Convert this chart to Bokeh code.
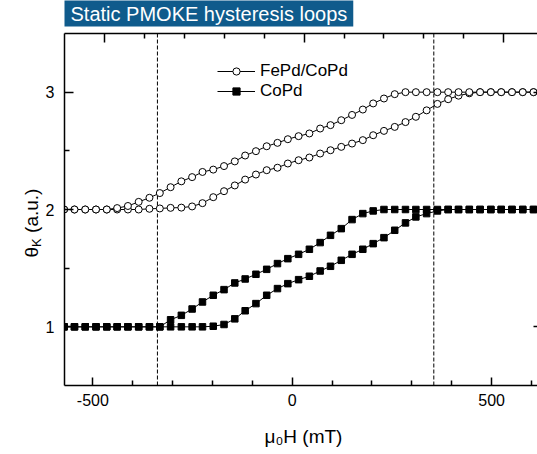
from bokeh.plotting import figure
from bokeh.models import Range1d, FixedTicker, LinearAxis, Span, Label, Legend, LegendItem
from bokeh.embed import file_html
from bokeh.resources import INLINE

# ---- data ----
field_mT = [-572, -546, -519, -492, -465, -439, -412, -385, -358, -332,
            -305, -278, -251, -225, -198, -171, -144, -118, -91, -64,
            -37, -11, 16, 43, 70, 96, 123, 150, 177, 203,
            230, 257, 284, 310, 337, 364, 391, 417, 444, 471,
            498, 524, 551, 578, 605]

fepd_up = [2.0, 2.0, 2.0, 2.0, 2.0, 2.0, 2.0, 2.0, 2.006, 2.009,
           2.014, 2.016, 2.026, 2.054, 2.105, 2.156, 2.205, 2.255, 2.298, 2.335,
           2.356, 2.392, 2.42, 2.443, 2.477, 2.505, 2.534, 2.562, 2.591, 2.633,
           2.67, 2.704, 2.745, 2.79, 2.845, 2.9, 2.94, 2.97, 2.99, 3.0,
           3.0, 3.0, 3.0, 3.0, 3.0]
fepd_down = [2.0, 2.0, 2.0, 2.0, 2.0, 2.012, 2.03, 2.065, 2.10, 2.14,
             2.19, 2.24, 2.276, 2.32, 2.34, 2.37, 2.41, 2.46, 2.497, 2.539,
             2.568, 2.599, 2.625, 2.648, 2.69, 2.719, 2.761, 2.806, 2.852, 2.904,
             2.946, 2.983, 3.0, 3.0, 3.0, 3.0, 3.0, 3.0, 3.0, 3.0,
             3.0, 3.0, 3.0, 3.0, 3.0]
copd_up = [1.0, 1.0, 1.0, 1.0, 1.0, 1.0, 1.0, 1.0, 1.0, 1.0,
           1.0, 1.0, 1.0, 1.0, 1.005, 1.02, 1.068, 1.137, 1.198, 1.269,
           1.326, 1.368, 1.402, 1.431, 1.476, 1.516, 1.567, 1.618, 1.661, 1.709,
           1.76, 1.823, 1.886, 1.937, 1.965, 1.988, 2.0, 2.0, 2.0, 2.0,
           2.0, 2.0, 2.0, 2.0, 2.0]
copd_down = [1.0, 1.0, 1.0, 1.0, 1.0, 1.0, 1.0, 1.0, 1.0, 1.0,
             1.06, 1.098, 1.152, 1.212, 1.269, 1.317, 1.374, 1.408, 1.448, 1.49,
             1.539, 1.581, 1.618, 1.661, 1.718, 1.78, 1.837, 1.914, 1.965, 1.988,
             2.0, 2.0, 2.0, 2.0, 2.0, 2.0, 2.0, 2.0, 2.0, 2.0,
             2.0, 2.0, 2.0, 2.0, 2.0]

guide_fields = [-338, 355]

x_major = [-500, 0, 500]
x_minor = [-400, -300, -200, -100, 100, 200, 300, 400, 600]
top_major = [-470, 30, 530]
top_minor = [-370, -270, -170, -70, 130, 230, 330, 430]
y_major = [1, 2, 3]
y_minor = [1.5, 2.5]

series_names = ["FePd/CoPd", "CoPd"]
title_text = "Static PMOKE hysteresis loops"
x_title = "μ₀H (mT)"
y_title_main = "θ"
y_title_sub = "K"
y_title_unit = "(a.u.)"

FONT = "Liberation Sans"
TITLE_BG = "#0f5b8c"

p = figure(width=537, height=454, output_backend="svg", toolbar_location=None,
           x_range=Range1d(-571, 615), y_range=Range1d(0.5, 3.5),
           x_axis_location=None, y_axis_location=None,
           min_border_left=64, min_border_right=0, min_border_top=33, min_border_bottom=69)
p.outline_line_color = None
p.grid.visible = False


def style_axis(ax, tick_in, minor_in, font_size="16px"):
    ax.axis_line_color = "black"
    ax.axis_line_width = 1.5
    ax.major_tick_in = tick_in
    ax.major_tick_out = 0
    ax.minor_tick_in = minor_in
    ax.minor_tick_out = 0
    ax.major_tick_line_color = "black"
    ax.minor_tick_line_color = "black"
    ax.major_tick_line_width = 1.5
    ax.minor_tick_line_width = 1.5
    ax.major_label_text_font = FONT
    ax.major_label_text_color = "black"
    ax.major_label_text_font_size = font_size


bottom = LinearAxis(ticker=FixedTicker(ticks=x_major, minor_ticks=x_minor),
                    major_label_overrides={-500: "-500", 0: "0", 500: "500"})
style_axis(bottom, 8, 5)
bottom.major_label_standoff = 8
p.add_layout(bottom, "below")

left = LinearAxis(ticker=FixedTicker(ticks=y_major, minor_ticks=y_minor))
style_axis(left, 9, 5)
left.major_label_standoff = 10
p.add_layout(left, "left")

top = LinearAxis(ticker=FixedTicker(ticks=top_major, minor_ticks=top_minor),
                 major_label_overrides={t: "" for t in top_major})
style_axis(top, 9, 5, font_size="1px")
top.major_label_standoff = 0
p.add_layout(top, "above")

right = LinearAxis(ticker=FixedTicker(ticks=y_major, minor_ticks=[]),
                   major_label_overrides={t: "" for t in y_major})
style_axis(right, 4, 0, font_size="1px")
right.major_label_standoff = 0
right.axis_line_color = None
p.add_layout(right, "right")

for g in guide_fields:
    p.add_layout(Span(location=g, dimension="height", line_color="black",
                      line_width=1, line_dash="4 2", level="underlay"))

l1 = p.line(field_mT, fepd_up, line_color="black", line_width=1)
l2 = p.line(field_mT, fepd_down, line_color="black", line_width=1)
l3 = p.line(field_mT, copd_up, line_color="black", line_width=1)
l4 = p.line(field_mT, copd_down, line_color="black", line_width=1)
s1 = p.scatter(field_mT, fepd_up, marker="circle", size=7, fill_color="white",
               line_color="black", line_width=1)
s2 = p.scatter(field_mT, fepd_down, marker="circle", size=7, fill_color="white",
               line_color="black", line_width=1)
s3 = p.scatter(field_mT, copd_up, marker="square", size=6.5, fill_color="black",
               line_color="black", line_width=1)
s4 = p.scatter(field_mT, copd_down, marker="square", size=6.5, fill_color="black",
               line_color="black", line_width=1)

legend = Legend(items=[LegendItem(label=series_names[0], renderers=[l1, s1]),
                       LegendItem(label=series_names[1], renderers=[l3, s3])],
                location=(153, 284), border_line_color=None, background_fill_alpha=0,
                padding=0, margin=0, spacing=0, glyph_width=38, glyph_height=18,
                label_height=18, label_standoff=5, label_text_font=FONT,
                label_text_font_size="17px", label_text_color="black")
p.add_layout(legend)

ROT = 1.5707963

# title box (side panel -> not clipped)
p.add_layout(Label(x=64, y=0, x_units="canvas", y_units="canvas", text=title_text,
                   text_font=FONT, text_font_size="20px", text_color="white",
                   text_align="left", text_baseline="top",
                   background_fill_color=TITLE_BG, padding=(6, 2)), "above")

# x axis title
p.add_layout(Label(x=264, y=436, x_units="canvas", y_units="canvas", text=x_title,
                   text_font=FONT, text_font_size="19px", text_align="left",
                   text_baseline="alphabetic", text_color="black"), "below")

# y axis title pieces
p.add_layout(Label(x=31, y=257, x_units="canvas", y_units="canvas", text=y_title_main,
                   text_font=FONT, text_font_size="19px", text_align="left",
                   text_baseline="alphabetic", angle=ROT, text_color="black"), "left")
p.add_layout(Label(x=36, y=246.4, x_units="canvas", y_units="canvas", text=y_title_sub,
                   text_font=FONT, text_font_size="13px", text_align="left",
                   text_baseline="alphabetic", angle=ROT, text_color="black"), "below")
p.add_layout(Label(x=31, y=232.4, x_units="canvas", y_units="canvas", text=y_title_unit,
                   text_font=FONT, text_font_size="19px", text_align="left",
                   text_baseline="alphabetic", angle=ROT, text_color="black"), "left")

open("out.html", "w").write(file_html(p, INLINE))
